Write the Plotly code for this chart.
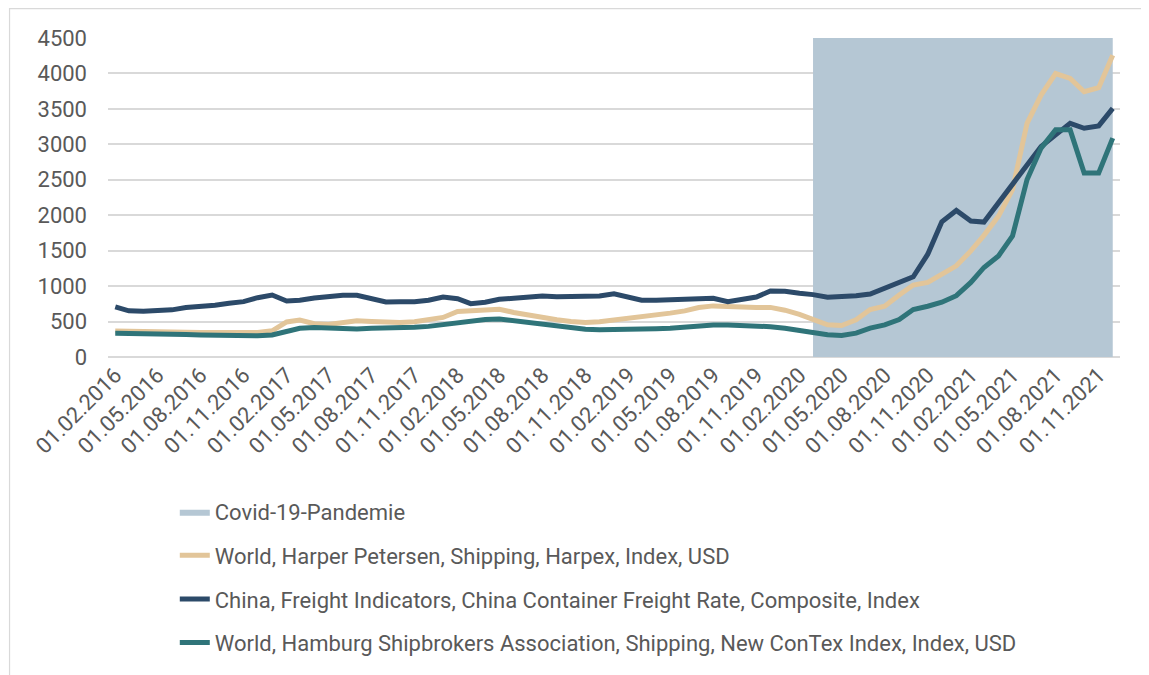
import pandas as pd
import plotly.graph_objects as go

# monthly observations, Feb 2016 - Dec 2021
months = pd.date_range("2016-02-01", "2021-12-01", freq="MS")

harpex = [367, 367, 365, 360, 355, 350, 345, 342, 340, 340, 345, 370, 495, 520, 470, 458,
          480, 510, 502, 488, 488, 498, 525, 558, 642, 656, 670, 674, 628, 591, 558, 525,
          502, 488, 498, 521, 558, 581, 605, 619, 651, 698, 721, 711, 707, 698, 700, 660,
          600, 525, 454, 444, 524, 669, 716, 875, 1015, 1052, 1169, 1286, 1497, 1716, 1988, 2362,
          3297, 3695, 3999, 3929, 3742, 3798, 4256]

ccfi = [707, 651, 646, 651, 665, 698, 711, 730, 758, 781, 837, 874, 790, 800, 832, 851,
        870, 870, 823, 777, 781, 781, 800, 846, 823, 753, 772, 814, 828, 837, 860, 851,
        851, 860, 860, 893, 837, 800, 800, 804, 814, 823, 828, 781, 814, 846, 930, 928,
        898, 880, 842, 851, 865, 889, 977, 1062, 1132, 1450, 1908, 2067, 1918, 1904, 2175, 2455,
        2727, 2970, 3134, 3297, 3227, 3260, 3508]

contex = [335, 335, 332, 328, 324, 318, 312, 306, 300, 296, 300, 310, 363, 405, 415, 405,
          388, 395, 405, 405, 409, 419, 432, 456, 488, 511, 530, 535, 511, 488, 474, 451,
          419, 391, 386, 386, 395, 400, 400, 405, 419, 442, 451, 451, 446, 442, 428, 405,
          375, 350, 313, 304, 337, 407, 454, 529, 669, 716, 772, 865, 1052, 1263, 1426, 1707,
          2502, 2947, 3204, 3204, 2596, 2596, 3087]

covid_months = pd.date_range("2020-03-01", "2021-12-01", freq="MS")
covid_level = [4500] * len(covid_months)

font = "Roboto, sans-serif"
grey = "#595959"

fig = go.Figure()

fig.add_trace(go.Scatter(x=covid_months, y=covid_level, name="Covid-19-Pandemie",
                         mode="lines", line=dict(width=0, color="#b5c7d4"),
                         fill="tozeroy", fillcolor="#b5c7d4", legendgroup="a"))
fig.add_trace(go.Scatter(x=months, y=harpex, name="World, Harper Petersen, Shipping, Harpex, Index, USD",
                         mode="lines", line=dict(width=5, color="#e2c599"), legendgroup="b"))
fig.add_trace(go.Scatter(x=months, y=ccfi, name="China, Freight Indicators, China Container Freight Rate, Composite, Index",
                         mode="lines", line=dict(width=5, color="#2c4a69"), legendgroup="c"))
fig.add_trace(go.Scatter(x=months, y=contex, name="World, Hamburg Shipbrokers Association, Shipping, New ConTex Index, Index, USD",
                         mode="lines", line=dict(width=5, color="#2f7479"), legendgroup="d"))

# page body adds 8px, so the figure is drawn 8px smaller
fig.update_layout(
    width=1141, height=667,
    margin=dict(l=100, r=29, t=30, b=317),
    paper_bgcolor="white", plot_bgcolor="white",
    font=dict(family=font, size=22, color=grey),
    showlegend=True,
    legend=dict(orientation="v", x=0.066, xanchor="left", y=-0.4155, yanchor="top",
                traceorder="grouped", tracegroupgap=12, font=dict(size=22, color=grey)),
    shapes=[dict(type="rect", xref="paper", yref="paper",
                 x0=-0.0973, x1=1.04, y0=-1.1, y1=1.092,
                 line=dict(color="#d9d9d9", width=1.2), layer="below")],
)

fig.update_xaxes(type="date", range=["2016-01-16 12:00", "2021-12-16 12:00"],
                 tick0="2016-02-01", dtick="M3", tickformat="%d.%m.%Y", tickangle=-45,
                 showgrid=False, showline=False, zeroline=False, ticks="",
                 tickfont=dict(size=22, color=grey))
fig.update_yaxes(range=[0, 4500], dtick=500, showgrid=True, gridcolor="#d9d9d9", gridwidth=1.5,
                 zeroline=True, zerolinecolor="#d9d9d9", zerolinewidth=1.5,
                 ticklabelstandoff=20, tickfont=dict(size=22, color=grey))

fig.write_html("out.html")
